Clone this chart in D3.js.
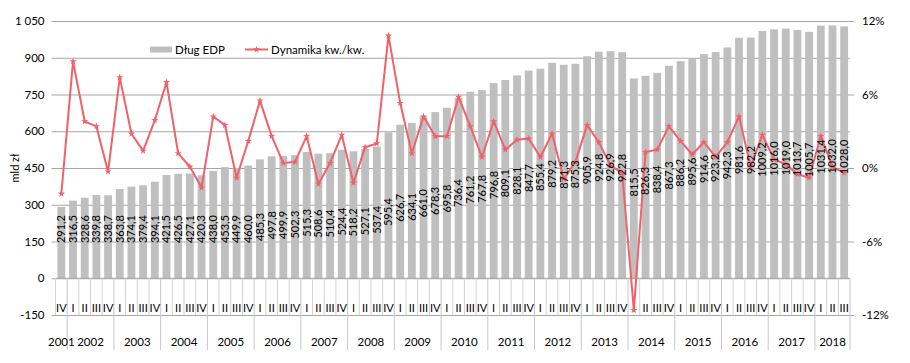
<!DOCTYPE html>
<html>
<head>
<meta charset="utf-8">
<script src="https://cdn.jsdelivr.net/npm/d3@7"></script>
<style>
  body { margin: 0; background: #fff; }
  svg text { font-family: Lato, "Liberation Sans", sans-serif; fill: #000; }
</style>
</head>
<body>
<svg id="mainsvg" width="910" height="363"></svg>
<script>
// okresy (rok-kwartał)
const periods = [
  '2001-IV',
  '2002-I', '2002-II', '2002-III', '2002-IV',
  '2003-I', '2003-II', '2003-III', '2003-IV',
  '2004-I', '2004-II', '2004-III', '2004-IV',
  '2005-I', '2005-II', '2005-III', '2005-IV',
  '2006-I', '2006-II', '2006-III', '2006-IV',
  '2007-I', '2007-II', '2007-III', '2007-IV',
  '2008-I', '2008-II', '2008-III', '2008-IV',
  '2009-I', '2009-II', '2009-III', '2009-IV',
  '2010-I', '2010-II', '2010-III', '2010-IV',
  '2011-I', '2011-II', '2011-III', '2011-IV',
  '2012-I', '2012-II', '2012-III', '2012-IV',
  '2013-I', '2013-II', '2013-III', '2013-IV',
  '2014-I', '2014-II', '2014-III', '2014-IV',
  '2015-I', '2015-II', '2015-III', '2015-IV',
  '2016-I', '2016-II', '2016-III', '2016-IV',
  '2017-I', '2017-II', '2017-III', '2017-IV',
  '2018-I', '2018-II', '2018-III'
];

// Dług EDP, mld zł
const debt = [
  291.2,
  316.5, 328.6, 339.8, 338.7,
  363.8, 374.1, 379.4, 394.1,
  421.5, 426.5, 427.1, 420.3,
  438.0, 453.5, 449.9, 460.0,
  485.3, 497.8, 499.9, 502.3,
  515.3, 508.6, 510.4, 524.4,
  518.2, 527.1, 537.4, 595.4,
  626.7, 634.1, 661.0, 678.3,
  695.8, 736.4, 761.2, 767.8,
  796.8, 809.1, 828.1, 847.7,
  855.4, 879.2, 871.3, 875.3,
  905.9, 924.8, 926.9, 922.8,
  815.5, 826.3, 838.4, 867.3,
  886.2, 895.6, 914.6, 923.2,
  942.3, 981.6, 982.2, 1009.2,
  1016.0, 1019.0, 1013.7, 1005.7,
  1031.4, 1032.0, 1028.0
];

// Dynamika kw./kw., %
const dynamics = [
  -2.1,
  8.7, 3.8, 3.4, -0.3,
  7.4, 2.8, 1.4, 3.9,
  7.0, 1.2, 0.1, -1.6,
  4.2, 3.5, -0.8, 2.2,
  5.5, 2.6, 0.4, 0.5,
  2.6, -1.3, 0.4, 2.7,
  -1.2, 1.7, 2.0, 10.8,
  5.3, 1.2, 4.2, 2.6,
  2.6, 5.8, 3.4, 0.9,
  3.8, 1.5, 2.3, 2.4,
  0.9, 2.8, -0.9, 0.5,
  3.5, 2.1, 0.2, -0.4,
  -11.6, 1.3, 1.5, 3.4,
  2.2, 1.1, 2.1, 0.9,
  2.1, 4.2, 0.1, 2.7,
  0.7, 0.3, -0.5, -0.8,
  2.6, 0.1, -0.4
];

const leftTicks = [-150, 0, 150, 300, 450, 600, 750, 900, 1050];
const rightTicks = [-12, -6, 0, 6, 12];

const data = periods.map((p, i) => ({
  i: i,
  year: p.split('-')[0],
  q: p.split('-')[1],
  debt: debt[i],
  dyn: dynamics[i]
}));

const svg = d3.select('#mainsvg');
const plotLeft = 55.5, plotRight = 850, plotTop = 21, plotBottom = 315;

const xScale = d3.scaleBand()
  .domain(data.map(d => d.i))
  .range([plotLeft, plotRight])
  .paddingInner(1 / 3)
  .paddingOuter(1 / 6);
const step = xScale.step();
const yScale = d3.scaleLinear().domain([-150, 1050]).range([plotBottom, plotTop]);
const y2Scale = d3.scaleLinear().domain([-12, 12]).range([plotBottom, plotTop]);

const fmt = v => v.toFixed(1).replace('.', ',');
const fmtLeft = v => {
  const s = String(Math.abs(v));
  const t = s.length > 3 ? s.slice(0, s.length - 3) + ' ' + s.slice(-3) : s;
  return v < 0 ? '-' + t : t;
};

// siatka i lewa oś
const yAxis = d3.axisLeft(yScale)
  .tickValues(leftTicks)
  .tickSize(-(plotRight - plotLeft))
  .tickFormat(fmtLeft);
const gy = svg.append('g')
  .attr('transform', `translate(${plotLeft}, 0)`)
  .call(yAxis);
gy.select('.domain').remove();
gy.selectAll('.tick line').attr('stroke', '#a6a6a6').attr('x1', -4);
gy.selectAll('.tick text')
  .attr('x', -11)
  .style('font-size', '11.5px')
  .style('font-family', 'Lato, sans-serif');

// prawa oś
const y2Axis = d3.axisRight(y2Scale)
  .tickValues(rightTicks)
  .tickSize(4)
  .tickFormat(d => d + '%');
const gy2 = svg.append('g')
  .attr('transform', `translate(${plotRight}, 0)`)
  .call(y2Axis);
gy2.select('.domain').remove();
gy2.selectAll('.tick line').attr('stroke', '#a6a6a6');
gy2.selectAll('.tick text')
  .attr('x', 12)
  .style('font-size', '11.5px')
  .style('font-family', 'Lato, sans-serif');

// słupki
svg.append('g').selectAll('rect')
  .data(data)
  .join('rect')
  .attr('x', d => xScale(d.i))
  .attr('width', xScale.bandwidth())
  .attr('y', d => yScale(d.debt))
  .attr('height', d => yScale(0) - yScale(d.debt))
  .attr('fill', '#bfbfbf');

// oś kategorii
const y0 = yScale(0);
const axisG = svg.append('g');
axisG.append('line')
  .attr('x1', plotLeft).attr('x2', plotRight)
  .attr('y1', y0).attr('y2', y0)
  .attr('stroke', '#a6a6a6');

data.forEach(d => {
  const x = plotLeft + d.i * step;
  const yearStart = d.i > 0 && d.q === 'I';
  axisG.append('line')
    .attr('x1', x).attr('x2', x)
    .attr('y1', y0).attr('y2', yearStart ? 350 : plotBottom)
    .attr('stroke', yearStart ? '#c8c8c8' : '#d4d4d4');
});
axisG.append('line')
  .attr('x1', plotRight).attr('x2', plotRight)
  .attr('y1', y0).attr('y2', 350)
  .attr('stroke', '#c8c8c8');

axisG.selectAll('text.q')
  .data(data)
  .join('text')
  .attr('class', 'q')
  .attr('x', d => xScale(d.i) + xScale.bandwidth() / 2)
  .attr('y', 308)
  .attr('dy', '0.35em')
  .attr('text-anchor', 'middle')
  .style('font-size', '11px')
  .text(d => d.q);

const years = d3.groups(data, d => d.year);
axisG.selectAll('text.yr')
  .data(years)
  .join('text')
  .attr('class', 'yr')
  .attr('x', ([, rows]) => plotLeft + (rows[0].i + rows.length / 2) * step)
  .attr('y', 342)
  .attr('dy', '0.35em')
  .attr('text-anchor', 'middle')
  .style('font-size', '11.5px')
  .text(([y]) => y);

// linia dynamiki
const lineColor = '#f2606a';
const line = d3.line()
  .x(d => xScale(d.i) + xScale.bandwidth() / 2)
  .y(d => y2Scale(d.dyn));
svg.append('path')
  .datum(data)
  .attr('d', line)
  .attr('fill', 'none')
  .attr('stroke', lineColor)
  .attr('stroke-width', 2)
  .attr('stroke-linejoin', 'round');

const marker = d3.symbol().type(d3.symbolStar).size(16);
svg.append('g').selectAll('path')
  .data(data)
  .join('path')
  .attr('d', marker)
  .attr('transform', d => `translate(${xScale(d.i) + xScale.bandwidth() / 2}, ${y2Scale(d.dyn)})`)
  .attr('fill', lineColor);

// etykiety wartości
const labelTop = v => yScale(Math.max(v * 0.55, Math.min(v - 12, 258)));
svg.append('g').selectAll('text')
  .data(data)
  .join('text')
  .attr('transform', d => `translate(${xScale(d.i) + xScale.bandwidth() / 2}, ${labelTop(d.debt)}) rotate(-90)`)
  .attr('text-anchor', 'end')
  .attr('dy', '0.35em')
  .style('font-size', '11px')
  .text(d => fmt(d.debt));

// tytuł osi
svg.append('text')
  .attr('transform', `translate(15, 168) rotate(-90)`)
  .attr('text-anchor', 'middle')
  .attr('dy', '0.35em')
  .style('font-size', '11px')
  .text('mld zł');

// legenda
const lg = svg.append('g');
lg.append('rect')
  .attr('x', 150).attr('y', 46.5)
  .attr('width', 22).attr('height', 6)
  .attr('fill', '#bfbfbf');
lg.append('text')
  .attr('x', 175).attr('y', 49.5)
  .attr('dy', '0.35em')
  .style('font-size', '11.5px')
  .text('Dług EDP');
lg.append('line')
  .attr('x1', 245).attr('x2', 268)
  .attr('y1', 49.5).attr('y2', 49.5)
  .attr('stroke', lineColor)
  .attr('stroke-width', 2);
lg.append('path')
  .attr('d', marker())
  .attr('transform', 'translate(256.5, 49.5)')
  .attr('fill', lineColor);
lg.append('text')
  .attr('x', 271).attr('y', 49.5)
  .attr('dy', '0.35em')
  .style('font-size', '11.5px')
  .text('Dynamika kw./kw.');
</script>
</body>
</html>
